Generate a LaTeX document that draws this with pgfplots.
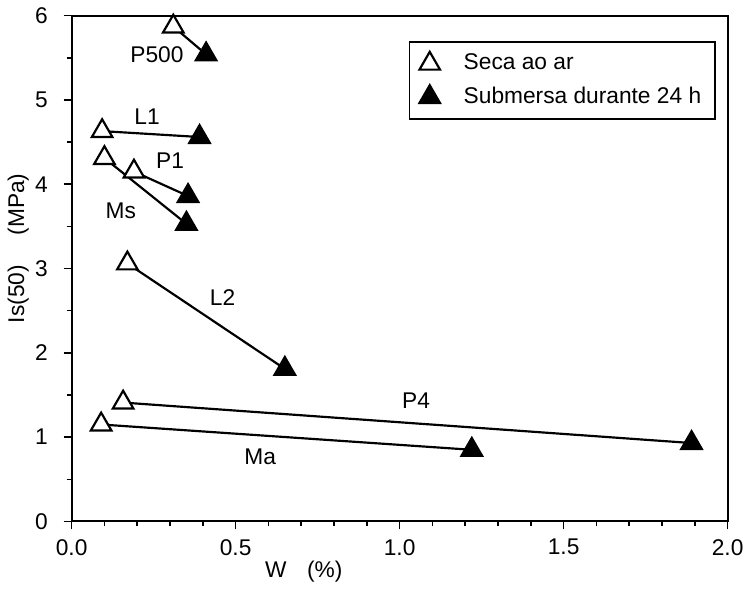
\documentclass[border=0pt]{standalone}
\usepackage{pgfplots}
\pgfplotsset{compat=1.18}
\usepackage{fontspec}
\setmainfont{Liberation Sans}
\begin{document}
\fontsize{11.5}{13.5}\selectfont
\begin{tikzpicture}
\begin{axis}[
  scale only axis, width=332pt, height=256pt,
  xmin=0, xmax=2.0, ymin=0, ymax=6,
  xtick={0,0.5,1.0,1.5,2.0}, ytick={0,1,2,3,4,5,6},
  minor x tick num=4, minor y tick num=1,
  tick align=outside, axis line style={line width=1pt},
  major tick length=4pt, minor tick length=2.5pt,
  xtick pos=bottom, ytick pos=left,
  every tick/.style={black, line width=0.8pt},
  /pgf/number format/assume math mode=true,
  xticklabel style={/pgf/number format/fixed, /pgf/number format/fixed zerofill, /pgf/number format/precision=1, yshift=-1pt},
  yticklabel style={xshift=-4pt},
  scaled x ticks=false,
  legend style={at={(axis description cs:0.982,0.949)}, anchor=north east, draw=black, line width=0.8pt, cells={anchor=west}, row sep=3pt, inner xsep=5pt, inner ysep=4pt, font=\fontsize{11.5}{13.5}\selectfont},
  legend cell align=left,
  clip=false,
]
\addplot[black, line width=1.1pt, forget plot] coordinates {(0.31,5.87) (0.41,5.54)};
\addplot[black, line width=1.1pt, forget plot] coordinates {(0.093,4.63) (0.39,4.56)};
\addplot[black, line width=1.1pt, forget plot] coordinates {(0.10,4.31) (0.35,3.53)};
\addplot[black, line width=1.1pt, forget plot] coordinates {(0.19,4.15) (0.355,3.86)};
\addplot[black, line width=1.1pt, forget plot] coordinates {(0.17,3.06) (0.65,1.81)};
\addplot[black, line width=1.1pt, forget plot] coordinates {(0.157,1.41) (1.89,0.93)};
\addplot[black, line width=1.1pt, forget plot] coordinates {(0.09,1.15) (1.22,0.85)};
\addplot[only marks, mark=triangle*, mark size=6pt, mark options={fill=white, draw=black, line width=1.1pt}] coordinates {
 (0.31,5.87) (0.093,4.63) (0.10,4.31) (0.19,4.15) (0.17,3.06) (0.157,1.41) (0.09,1.15)};
\addlegendentry{\hspace{10pt}Seca ao ar}
\addplot[only marks, mark=triangle*, mark size=6pt, mark options={fill=black, draw=black, line width=1.1pt}] coordinates {
 (0.41,5.54) (0.39,4.56) (0.35,3.53) (0.355,3.86) (0.65,1.81) (1.89,0.93) (1.22,0.85)};
\addlegendentry{\hspace{10pt}Submersa durante 24 h}
\node at (axis cs:0.26,5.54) {P500};
\node at (axis cs:0.23,4.80) {L1};
\node at (axis cs:0.30,4.28) {P1};
\node at (axis cs:0.15,3.68) {Ms};
\node at (axis cs:0.46,2.65) {L2};
\node at (axis cs:1.05,1.43) {P4};
\node at (axis cs:0.575,0.77) {Ma};
\node[rotate=90] at (axis cs:-0.163,3.24) {Is(50)\hspace{1.3em}(MPa)};
\node at (axis cs:0.708,-0.59) {W\hspace{0.9em}(\%)};
\path (axis cs:-0.21,3) (axis cs:1,6.16);
\end{axis}
\end{tikzpicture}
\end{document}
